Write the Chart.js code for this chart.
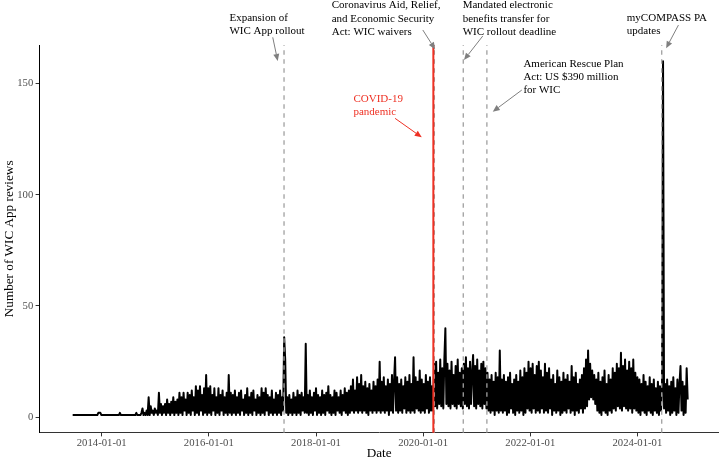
<!DOCTYPE html>
<html><head><meta charset="utf-8">
<script src="https://cdn.jsdelivr.net/npm/chart.js@4/dist/chart.umd.min.js"></script>
<style>html,body{margin:0;padding:0;background:#fff;}canvas{display:block;}</style>
</head><body>
<canvas id="c" width="719" height="469"></canvas>
<script>
// ---------- data ----------
const seriesStart = '2013-06-17';   // first observation
const seriesStepDays = 7;           // one reading per week (alternating low / high of the daily band)
const reviews = [
1,1,1,1,1,1,1,1,1,1,1,1,1,1,1,1,1,1,1,1,
1,1,1,1,1,2,2,2,1,1,1,1,1,1,1,1,1,1,1,1,
1,1,1,1,1,1,2,1,1,1,1,1,1,1,1,1,1,1,1,1,
1,1,2,1,1,1,1,2,4,1,2,1,3,1,9,1,5,2,3,1,
4,2,3,1,11,2,6,1,5,2,6,1,8,2,6,1,7,2,9,1,
7,2,8,1,11,2,9,1,11,3,8,1,11,2,10,1,12,3,9,1,
14,2,12,1,14,3,10,1,13,2,19,1,13,2,14,1,10,3,13,1,
9,2,13,1,10,3,12,1,9,2,11,1,19,2,11,1,10,2,12,1,
9,2,11,1,12,3,8,1,10,2,13,1,9,2,11,1,12,3,8,1,
10,2,9,1,13,2,11,1,13,3,10,1,9,2,12,1,8,2,11,1,
10,2,12,1,9,3,36,26,2,9,1,10,2,8,1,11,2,9,1,12,
2,10,1,11,3,9,2,33,2,10,1,12,2,9,1,11,3,13,1,10,
2,9,1,12,2,10,1,11,3,14,2,10,1,9,2,12,1,11,3,9,
2,12,1,10,3,13,2,11,1,12,2,14,3,17,2,12,3,18,2,15,
3,19,2,14,3,16,2,13,1,15,3,12,2,16,3,14,2,17,3,25,
2,16,3,18,2,14,3,17,1,15,3,19,2,16,27,3,18,2,15,3,
17,2,14,4,18,2,16,3,19,2,15,3,27,2,18,4,16,3,21,2,
17,3,15,2,19,4,16,2,18,3,14,3,24,5,25,4,20,6,26,5,
22,4,26,40,6,24,5,21,4,25,6,19,5,23,4,26,6,20,5,22,
4,24,6,27,5,22,4,25,6,20,28,5,23,4,26,6,21,5,24,4,
25,6,22,4,20,3,17,2,19,3,16,1,20,3,18,2,30,3,17,2,
19,3,16,1,18,2,20,4,15,2,17,1,19,3,16,2,21,3,18,1,
22,2,20,4,25,3,22,2,24,4,19,2,23,3,25,2,21,4,18,2,
24,3,20,2,22,4,17,1,19,3,15,2,21,3,18,1,16,2,20,3,
17,2,19,4,16,2,23,3,18,1,20,3,15,2,17,4,19,2,22,4,
26,5,30,8,24,9,21,8,19,6,17,3,20,2,16,1,18,3,21,2,
15,1,19,3,17,2,22,4,20,3,24,5,22,4,29,3,23,5,26,4,
21,3,25,4,22,2,26,4,20,3,18,2,17,1,15,3,19,2,16,1,
14,3,18,2,15,1,17,3,13,2,16,1,14,3,12,160,4,15,2,17,
3,14,1,16,2,18,3,13,1,17,2,15,23,3,16,1,14,2,22,8
];
const xTickLabels = ['2014-01-01','2016-01-01','2018-01-01','2020-01-01','2022-01-01','2024-01-01'];
const yTickValues = [0, 50, 100, 150];
const eventDates = ['2017-05-28','2020-03-18','2020-10-01','2021-03-11','2024-06-15'];
const covidDate = '2020-03-11';
const notes = [
  {lines:['Expansion of','WIC App rollout'], at:['2016-05-21',179.5], from:['2017-03-12',170.7], to:['2017-04-15',160.1], red:false},
  {lines:['Coronavirus Aid, Relief,','and Economic Security','Act: WIC waivers'], at:['2018-04-18',185.0], from:['2019-12-30',174.0], to:['2020-03-23',165.3], red:false},
  {lines:['COVID-19','pandemic'], at:['2018-09-13',143.0], from:['2019-06-24',134.3], to:['2019-12-23',125.8], red:true},
  {lines:['Mandated electronic','benefits transfer for','WIC rollout deadline'], at:['2020-09-27',185.0], from:['2021-02-11',171.3], to:['2020-10-06',160.5], red:false},
  {lines:['American Rescue Plan','Act: US $390 million','for WIC'], at:['2021-11-15',158.8], from:['2021-11-04',147.0], to:['2021-04-20',137.3], red:false},
  {lines:['myCOMPASS PA','updates'], at:['2023-10-21',179.4], from:['2024-10-07',176.2], to:['2024-07-15',165.8], red:false}
];

// ---------- helpers ----------
const ORIGIN = Date.UTC(2014,0,1);
function dayNum(s){ const [y,m,d] = s.split('-').map(Number); return (Date.UTC(y,m-1,d)-ORIGIN)/86400000; }
const startDay = dayNum(seriesStart);
const points = reviews.map((v,i)=>({x:startDay + i*seriesStepDays, y:v}));

const SERIF = '"Liberation Serif", "Times New Roman", serif';
const RED = '#ee3124';

function arrow(ctx,x1,y1,x2,y2,color){
  const ang = Math.atan2(y2-y1,x2-x1), L=7, W=3;
  const bx = x2 - L*Math.cos(ang), by = y2 - L*Math.sin(ang);
  ctx.strokeStyle = color; ctx.fillStyle = color; ctx.lineWidth = 1;
  ctx.beginPath(); ctx.moveTo(x1,y1); ctx.lineTo(bx,by); ctx.stroke();
  ctx.beginPath(); ctx.moveTo(x2,y2);
  ctx.lineTo(bx + W*Math.sin(ang), by - W*Math.cos(ang));
  ctx.lineTo(bx - W*Math.sin(ang), by + W*Math.cos(ang));
  ctx.closePath(); ctx.fill();
}

const annotate = {
  id:'annotate',
  afterDraw(chart){
    const {ctx, chartArea:a, scales:{x,y}} = chart;
    ctx.save();
    ctx.strokeStyle = '#a0a0a0'; ctx.lineWidth = 1.3; ctx.setLineDash([4.5,4.5]);
    eventDates.forEach(d=>{
      const px = x.getPixelForValue(dayNum(d));
      ctx.beginPath(); ctx.moveTo(px,a.bottom); ctx.lineTo(px,a.top); ctx.stroke();
    });
    ctx.setLineDash([]);
    const cx = x.getPixelForValue(dayNum(covidDate));
    ctx.strokeStyle = RED; ctx.lineWidth = 2;
    ctx.beginPath(); ctx.moveTo(cx,a.bottom); ctx.lineTo(cx,a.top); ctx.stroke();

    notes.forEach(n=>{
      arrow(ctx, x.getPixelForValue(dayNum(n.from[0])), y.getPixelForValue(n.from[1]),
                 x.getPixelForValue(dayNum(n.to[0])), y.getPixelForValue(n.to[1]),
                 n.red ? RED : '#7f7f7f');
      ctx.font = '11px ' + SERIF;
      ctx.fillStyle = n.red ? RED : '#000';
      ctx.textAlign = 'left'; ctx.textBaseline = 'middle';
      const tx = x.getPixelForValue(dayNum(n.at[0])), ty = y.getPixelForValue(n.at[1]);
      n.lines.forEach((t,k)=> ctx.fillText(t, tx, ty + k*13.3));
    });
    ctx.restore();
  }
};

new Chart(document.getElementById('c'), {
  type:'line',
  data:{datasets:[{data:points, borderColor:'#000', borderWidth:2, pointRadius:0, tension:0,
                   borderJoinStyle:'round', fill:false}]},
  options:{
    responsive:false, animation:false, devicePixelRatio:1,
    layout:{padding:{top:45,left:0,right:0,bottom:0}},
    plugins:{legend:{display:false}, tooltip:{enabled:false}},
    scales:{
      x:{type:'linear', min:-425.5, max:4208.5,
         afterFit(s){ s.height = 36.3; },
         afterBuildTicks(s){ s.ticks = xTickLabels.map(l=>({value:dayNum(l)})); },
         ticks:{callback:(v,i)=>xTickLabels[i], color:'#4d4d4d', font:{family:SERIF,size:10.7}, padding:0,
                maxRotation:0, minRotation:0, autoSkip:false},
         grid:{display:true, drawOnChartArea:false, drawTicks:true, tickLength:3.7, color:'#333', lineWidth:1},
         border:{display:true, color:'#333', width:1},
         title:{display:true, text:'Date', color:'#000', font:{family:SERIF,size:13.2,lineHeight:1}, padding:{top:0,bottom:9}}},
      y:{type:'linear', min:-6.92, max:167.25,
         afterFit(s){ s.width = 39.3; },
         afterBuildTicks(s){ s.ticks = yTickValues.map(v=>({value:v})); },
         ticks:{callback:(v)=>String(v), color:'#4d4d4d', font:{family:SERIF,size:10.7}, padding:2.3},
         grid:{display:true, drawOnChartArea:false, drawTicks:true, tickLength:3.7, color:'#333', lineWidth:1},
         border:{display:true, color:'#000', width:1},
         title:{display:true, text:'Number of WIC App reviews', color:'#000', font:{family:SERIF,size:13.2,lineHeight:1}, padding:{top:2.5,bottom:0}}}
    }
  },
  plugins:[annotate]
});
</script>
</body></html>
